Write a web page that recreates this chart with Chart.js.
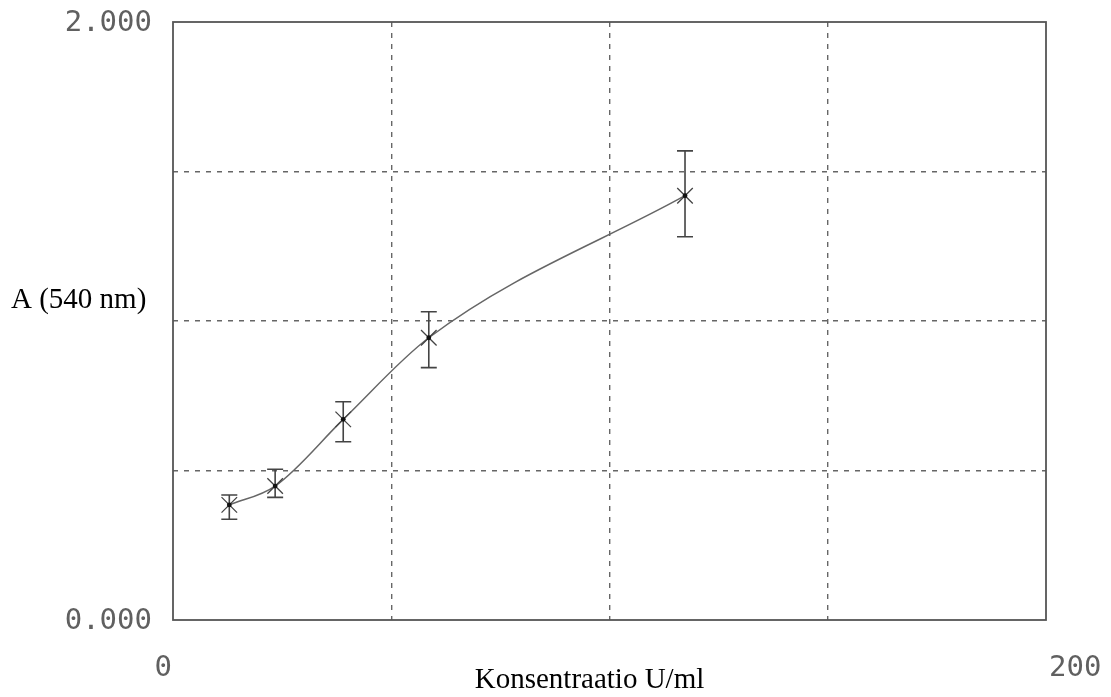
<!DOCTYPE html>
<html>
<head>
<meta charset="utf-8">
<script src="https://cdn.jsdelivr.net/npm/chart.js@4"></script>
<style>
  html, body { margin: 0; padding: 0; background: #fff; }
  #wrap { width: 1111px; height: 697px; }
</style>
</head>
<body>
<div id="wrap"><canvas id="c" width="1111" height="697"></canvas></div>
<script>
// Standard curve: absorbance at 540 nm against concentration
const concentrations = [12.9, 23.4, 39.0, 58.6, 117.3];
const absorbance     = [0.385, 0.448, 0.671, 0.944, 1.419];
const absLower       = [0.337, 0.410, 0.596, 0.844, 1.282];
const absUpper       = [0.418, 0.504, 0.730, 1.031, 1.569];

const xTickValues = [0, 200];
const xTickLabels = ['0', '200'];
const yTickValues = [0, 2];
const yTickLabels = ['0.000', '2.000'];

const xTitle = 'Konsentraatio U/ml';
const yTitle = 'A (540 nm)';

const points = concentrations.map((x, i) => ({ x: x, y: absorbance[i] }));

// Error bars, plot frame and axis text
const decorations = {
  id: 'decorations',
  beforeDatasetsDraw(chart) {
    const { ctx, chartArea: a } = chart;
    ctx.save();
    ctx.strokeStyle = '#555';
    ctx.lineWidth = 1.8;
    ctx.setLineDash([]);
    ctx.strokeRect(a.left, a.top, a.right - a.left, a.bottom - a.top);
    ctx.restore();
  },
  afterDatasetsDraw(chart) {
    const { ctx, scales: { x, y } } = chart;
    ctx.save();
    ctx.strokeStyle = '#444';
    ctx.lineWidth = 1.6;
    const cap = 8;
    concentrations.forEach((c, i) => {
      const px = x.getPixelForValue(c);
      const top = y.getPixelForValue(absUpper[i]);
      const bot = y.getPixelForValue(absLower[i]);
      ctx.beginPath();
      ctx.moveTo(px, top); ctx.lineTo(px, bot);
      ctx.moveTo(px - cap, top); ctx.lineTo(px + cap, top);
      ctx.moveTo(px - cap, bot); ctx.lineTo(px + cap, bot);
      ctx.stroke();
      // centre dot of the marker
      ctx.fillStyle = '#111';
      ctx.beginPath();
      ctx.arc(px, y.getPixelForValue(absorbance[i]), 2.4, 0, Math.PI * 2);
      ctx.fill();
    });

    // tick labels
    ctx.fillStyle = '#606060';
    ctx.font = '29px "DejaVu Sans Mono", "Liberation Mono", monospace';
    ctx.textBaseline = 'middle';
    ctx.textAlign = 'right';
    yTickValues.forEach((v, i) => {
      ctx.fillText(yTickLabels[i], x.left - 21, y.getPixelForValue(v) + 1);
    });
    xTickValues.forEach((v, i) => {
      const px = x.getPixelForValue(v);
      if (i === 0) { ctx.textAlign = 'right'; ctx.fillText(xTickLabels[i], px - 1, y.bottom + 48); }
      else { ctx.textAlign = 'left'; ctx.fillText(xTickLabels[i], px + 3, y.bottom + 48); }
    });

    // axis titles
    ctx.fillStyle = '#000';
    ctx.font = '29px "Liberation Serif", "Times New Roman", serif';
    ctx.textBaseline = 'alphabetic';
    ctx.textAlign = 'center';
    ctx.fillText(xTitle, (x.left + x.right) / 2 - 20, y.bottom + 68);
    ctx.textAlign = 'left';
    ctx.fillText(yTitle, 11, 308);
    ctx.restore();
  }
};

new Chart(document.getElementById('c'), {
  type: 'line',
  data: {
    datasets: [{
      data: points,
      borderColor: '#666',
      borderWidth: 1.5,
      cubicInterpolationMode: 'monotone',
      pointStyle: 'crossRot',
      pointRadius: 11,
      pointBorderColor: '#444',
      pointBorderWidth: 1.3,
      pointBackgroundColor: '#444',
      fill: false
    }]
  },
  options: {
    responsive: false,
    animation: false,
    layout: { padding: { left: 173, right: 65, top: 22, bottom: 77 } },
    plugins: { legend: { display: false }, tooltip: { enabled: false } },
    scales: {
      x: {
        type: 'linear', min: 0, max: 200,
        ticks: { display: false, stepSize: 50 },
        grid: {
          drawTicks: false,
          color: ctx => (ctx.tick.value === 0 || ctx.tick.value === 200) ? 'rgba(0,0,0,0)' : '#666',
          lineWidth: 1.4
        },
        border: { display: false, dash: [5, 6] }
      },
      y: {
        type: 'linear', min: 0, max: 2,
        ticks: { display: false, stepSize: 0.5 },
        grid: {
          drawTicks: false,
          color: ctx => (ctx.tick.value === 0 || ctx.tick.value === 2) ? 'rgba(0,0,0,0)' : '#666',
          lineWidth: 1.4
        },
        border: { display: false, dash: [5, 6] }
      }
    }
  },
  plugins: [decorations]
});
</script>
</body>
</html>
